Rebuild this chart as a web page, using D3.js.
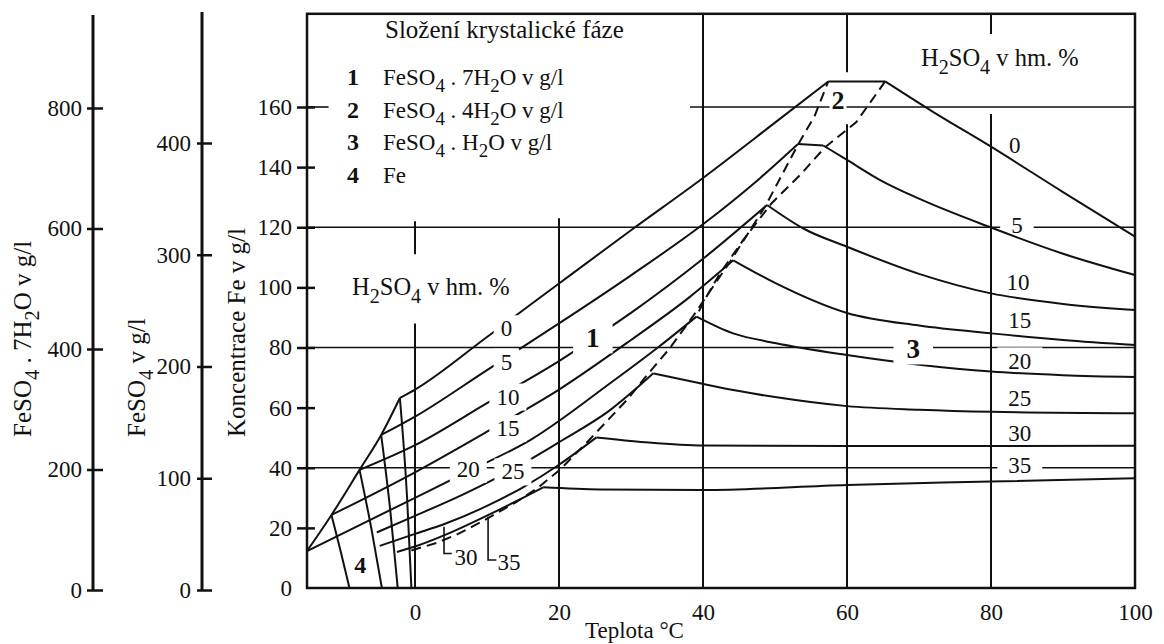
<!DOCTYPE html>
<html>
<head>
<meta charset="utf-8">
<script src="https://cdn.jsdelivr.net/npm/d3@7"></script>
<style>
body { margin: 0; background: #fff; }
text { font-family: "Liberation Serif", "Times New Roman", serif; fill: #111; }
</style>
</head>
<body>
<svg id="chart" width="1164" height="644"></svg>
<script>
// ---- data (temperature degC, Fe g/l) ----
var tempTicks = [0, 20, 40, 60, 80, 100];
var feTicks = [0, 20, 40, 60, 80, 100, 120, 140, 160];
var so4Ticks = [0, 100, 200, 300, 400];
var hepTicks = [0, 200, 400, 600, 800];
var acidPct = ["0", "5", "10", "15", "20", "25", "30", "35"];

// FeSO4.7H2O branches (region 1), one per acid %
var hepta0  = [[-2.1, 63.2], [0, 66], [10, 83.5], [20, 101.3], [30, 119], [40, 136.4], [50, 154.8], [57.4, 168.5]];
var hepta5  = [[-4.7, 50.9], [0, 57], [10, 72.5], [20, 88], [30, 104], [40, 121], [48, 136.5], [53.2, 147.7]];
var hepta10 = [[-7.7, 39.3], [0, 47.5], [10, 61.5], [20, 75.5], [30, 91.5], [40, 109.5], [48.9, 127.4]];
var hepta15 = [[-11.6, 24.3], [0, 38.5], [10, 52], [20, 66], [30, 82.5], [38, 96.5], [44.2, 109]];
var hepta20 = [[-15, 12.3], [0, 30], [8, 39.5], [16, 49.2], [27.1, 68.1], [34, 80.5], [39.1, 90.3]];
var hepta25 = [[-5.3, 18.5], [0, 24], [7, 31.5], [13.6, 39.5], [20, 48.5], [27, 59], [33.1, 71.4]];
var hepta30 = [[-4.9, 14], [0, 18], [4, 21.2], [10, 27.3], [15, 33.5], [20, 41], [25.2, 50.1]];
var hepta35 = [[-2.5, 12], [0, 13.8], [5, 18.5], [10.2, 24.3], [14, 28.8], [17.8, 33.5]];

// FeSO4.H2O branches (region 3)
var mono0  = [[65.3, 168.5], [72, 158.3], [80, 146.8], [90, 131.7], [100, 116.9]];
var mono5  = [[56.7, 147.2], [60, 142.4], [64.6, 135.7], [70, 129.5], [80, 119.9], [90, 111.2], [100, 104.1]];
var mono10 = [[48.9, 127.4], [54, 119.5], [60, 113.5], [70, 104.5], [80, 98], [90, 94.5], [100, 92.5]];
var mono15 = [[44.2, 109], [50, 101.5], [60, 91.5], [70, 87.3], [80, 84.7], [90, 82.5], [100, 80.8]];
var mono20 = [[39.1, 90.3], [44.2, 84.7], [50, 81.5], [60, 77.5], [70, 74.3], [80, 72], [90, 70.8], [100, 70.2]];
var mono25 = [[33.1, 71.4], [39.6, 68.1], [45, 65.5], [50, 63.5], [60, 60.5], [70, 59.3], [80, 58.6], [100, 58.1]];
var mono30 = [[25.2, 50.1], [32, 48.5], [40, 47.4], [60, 47.2], [80, 47.2], [100, 47.3]];
var mono35 = [[17.8, 33.5], [25.7, 32.8], [40, 32.6], [60, 34.3], [80, 35.4], [100, 36.5]];

// phase borders
var dashA = [[-0.5, 12.5], [3, 15], [6, 18], [9.6, 22.5], [14, 28.5], [17, 33.2], [20.2, 39.5], [24.3, 49.5],
             [29.6, 63], [32.3, 71], [35.3, 79.5], [38.5, 90], [43.8, 108.7], [48.7, 127.2], [53.2, 147.5], [55.5, 157], [57.4, 168.5]];
var dashB = [[65.3, 168.5], [61.3, 155], [56.9, 146.5], [53.5, 137.4], [49.5, 127.9], [45.6, 115.8], [42.4, 104.8], [40.5, 97], [39.2, 91]];
var iceEdge = [[-15, 12.3], [-11.6, 24.3], [-7.7, 39.3], [-4.7, 50.9], [-2.1, 63.2]];
var ice1 = [[-11.6, 24.3], [-10.3, 12], [-9.1, 0]];
var ice2 = [[-7.7, 39.3], [-6, 19], [-4.6, 0]];
var ice3 = [[-4.7, 50.9], [-3.4, 25], [-2.4, 0]];
var ice4 = [[-2.1, 63.2], [-1.1, 30], [-0.5, 0]];

// grid pieces: [temp, fe from, fe to] and [fe, temp from, temp to]
var vGrid = [[0, 0, 88], [0, 111, 122], [20, 0, 123], [40, 0, 191], [60, 0, 154.3], [60, 171.6, 191], [80, 0, 157.7], [80, 184.3, 191]];
var hGrid = [[160, 38.2, 100], [160, -15, -12], [120, -15, 100], [80, -15, 100], [40, -15, 100]];

// labels on curves: [text, temp, fe]
var heptaText = [["0", 12.7, 86.4], ["5", 12.7, 75.3], ["10", 12.9, 63.7], ["15", 12.9, 53.2], ["20", 7.4, 39.7], ["25", 13.6, 38.8]];
var monoText = [["0", 83.3, 147.4], ["5", 83.6, 120.8], ["10", 83.75, 101.9], ["15", 84, 89.2], ["20", 84, 75.4], ["25", 84, 63.1], ["30", 84, 51.5], ["35", 84, 40.9]];
var phaseText = [["1", 24.7, 83.2], ["2", 58.75, 162.3], ["3", 69.2, 79.5], ["4", -7.6, 7.7]];
var lowText = [["30", 7.1, 10.4], ["35", 13.05, 8.5]];
var brackets = [[[4.03, 20.4], [4.03, 11.5], [5.1, 11.5]], [[10.15, 23.7], [10.15, 9.3], [11.3, 9.3]]];

var legendNums = ["1", "2", "3", "4"];
var legendText = [
  [["FeSO", 0], ["4", 1], [" . 7H", 0], ["2", 1], ["O v g/l", 0]],
  [["FeSO", 0], ["4", 1], [" . 4H", 0], ["2", 1], ["O v g/l", 0]],
  [["FeSO", 0], ["4", 1], [" . H", 0], ["2", 1], ["O v g/l", 0]],
  [["Fe", 0]]
];

// ---- scales ----
var x = d3.scaleLinear().domain([-15, 100]).range([307, 1135]);
var y = d3.scaleLinear().domain([0, 160]).range([588, 107]);
var y7 = d3.scaleLinear().domain([0, 800]).range([590, 108]);
var y4 = d3.scaleLinear().domain([0, 400]).range([590, 143]);

var svg = d3.select("#chart");
var gGrid = svg.append("g");
var gSoft = svg.append("g");
var gCurves = svg.append("g");
var gHard = svg.append("g");
var gText = svg.append("g");

var line = d3.line()
    .x(function(d) { return x(d[0]); })
    .y(function(d) { return y(d[1]); })
    .curve(d3.curveMonotoneX);

// grid
gGrid.selectAll("line.v").data(vGrid).enter().append("line")
    .attr("x1", function(d) { return x(d[0]); })
    .attr("x2", function(d) { return x(d[0]); })
    .attr("y1", function(d) { return y(d[1]); })
    .attr("y2", function(d) { return y(d[2]); })
    .attr("stroke", "#111").attr("stroke-width", 2);
gGrid.selectAll("line.h").data(hGrid).enter().append("line")
    .attr("x1", function(d) { return x(d[1]); })
    .attr("x2", function(d) { return x(d[2]); })
    .attr("y1", function(d) { return y(d[0]); })
    .attr("y2", function(d) { return y(d[0]); })
    .attr("stroke", "#111").attr("stroke-width", 1.6);

// curves
var heptas = [hepta0, hepta5, hepta10, hepta15, hepta20, hepta25, hepta30, hepta35];
var monos = [mono0, mono5, mono10, mono15, mono20, mono25, mono30, mono35];
heptas.concat(monos, [iceEdge, ice1, ice2, ice3, ice4]).forEach(function(s) {
  gCurves.append("path").attr("d", line(s))
      .attr("fill", "none").attr("stroke", "#111").attr("stroke-width", 2);
});
// plateau links (region 2)
heptas.forEach(function(h, i) {
  var a = h[h.length - 1], b = monos[i][0];
  if (a[0] !== b[0]) {
    gCurves.append("line")
        .attr("x1", x(a[0])).attr("y1", y(a[1]))
        .attr("x2", x(b[0])).attr("y2", y(b[1]))
        .attr("stroke", "#111").attr("stroke-width", 2);
  }
});
[dashA, dashB].forEach(function(s) {
  gCurves.append("path").attr("d", line.curve(d3.curveLinear)(s))
      .attr("fill", "none").attr("stroke", "#111").attr("stroke-width", 2)
      .attr("stroke-dasharray", "10,6");
});
brackets.forEach(function(s) {
  gCurves.append("path").attr("d", line.curve(d3.curveLinear)(s))
      .attr("fill", "none").attr("stroke", "#111").attr("stroke-width", 1.6);
});

// label helper: white box behind text
function label(layer, d, size, bold, padX, padY) {
  var t = gText.append("text")
      .attr("x", x(d[1])).attr("y", y(d[2]))
      .attr("dy", "0.35em")
      .attr("text-anchor", "middle")
      .attr("font-size", size)
      .attr("font-weight", bold ? "bold" : "normal")
      .text(d[0]);
  var b = t.node().getBBox();
  layer.append("rect")
      .attr("x", b.x - padX).attr("y", b.y + 3 - padY)
      .attr("width", b.width + 2 * padX).attr("height", b.height - 6 + 2 * padY)
      .attr("fill", "#fff");
}
heptaText.forEach(function(d) { label(gHard, d, 23, false, 7, 4); });
monoText.forEach(function(d) { label(gSoft, d, 23, false, 11, 5); });
label(gHard, phaseText[0], 27, true, 13, 3);
label(gHard, phaseText[1], 26, true, 2, 0);
label(gHard, phaseText[2], 27, true, 13, 3);
label(gHard, phaseText[3], 24, true, 2, 0);
lowText.forEach(function(d) { label(gSoft, d, 23, false, 0, 0); });

// rich text with subscripts
function rich(sel, parts, size) {
  var off = 0;
  parts.forEach(function(p) {
    var t = sel.append("tspan").text(p[0]);
    var target = p[1] ? size * 0.32 : 0;
    if (target !== off) t.attr("dy", target - off);
    if (p[1]) t.attr("font-size", size * 0.82);
    off = target;
  });
}

// legend
gText.append("text").attr("x", 385).attr("y", 38).attr("font-size", 25).text("Složení krystalické fáze");
legendNums.forEach(function(n, i) {
  var yy = 85 + i * 32.5;
  gText.append("text").attr("x", 347).attr("y", yy).attr("font-size", 24).attr("font-weight", "bold").text(n);
  rich(gText.append("text").attr("x", 383).attr("y", yy).attr("font-size", 23), legendText[i], 23);
});
var acidTitle = [["H", 0], ["2", 1], ["SO", 0], ["4", 1], [" v hm. %", 0]];
rich(gText.append("text").attr("x", 921).attr("y", 66).attr("font-size", 24.5), acidTitle, 24.5);
rich(gText.append("text").attr("x", 352).attr("y", 295).attr("font-size", 24.5), acidTitle, 24.5);

// frame
svg.append("rect")
    .attr("x", x(-15)).attr("y", y(191))
    .attr("width", x(100) - x(-15)).attr("height", y(0) - y(191))
    .attr("fill", "none").attr("stroke", "#111").attr("stroke-width", 2.5);

// axes
function styleAxis(g, inner) {
  g.select(".domain").remove();
  g.selectAll(".tick line").attr("x1", inner).attr("stroke", "#111").attr("stroke-width", 2.5);
  g.selectAll(".tick text").attr("font-family", "Liberation Serif, serif").attr("font-size", 23).attr("fill", "#111");
}
var gFe = svg.append("g").attr("transform", "translate(" + x(-15) + ",0)")
    .call(d3.axisLeft(y).tickValues(feTicks).tickSize(10).tickPadding(5));
styleAxis(gFe, 8);
gFe.selectAll(".tick").filter(function(d) { return d === 0; }).select("line").remove();

var g7 = svg.append("g").attr("transform", "translate(93,0)")
    .call(d3.axisLeft(y7).tickValues(hepTicks).tickSize(6).tickPadding(5));
styleAxis(g7, 10);
g7.append("line").attr("x1", 0).attr("x2", 0).attr("y1", 15).attr("y2", 591).attr("stroke", "#111").attr("stroke-width", 3);

var g4 = svg.append("g").attr("transform", "translate(202,0)")
    .call(d3.axisLeft(y4).tickValues(so4Ticks).tickSize(5).tickPadding(6));
styleAxis(g4, 10);
g4.append("line").attr("x1", 0).attr("x2", 0).attr("y1", 12).attr("y2", 591).attr("stroke", "#111").attr("stroke-width", 3);

var gT = svg.append("g").attr("transform", "translate(0," + y(0) + ")")
    .call(d3.axisBottom(x).tickValues(tempTicks).tickSize(0).tickPadding(16));
gT.select(".domain").remove();
gT.selectAll(".tick text").attr("font-family", "Liberation Serif, serif").attr("font-size", 23).attr("fill", "#111");

// axis titles
gText.append("text").attr("x", 585).attr("y", 638).attr("font-size", 23).text("Teplota °C");
rich(gText.append("text").attr("transform", "translate(31,437) rotate(-90)").attr("font-size", 25),
     [["FeSO", 0], ["4", 1], [" . 7H", 0], ["2", 1], ["O v g/l", 0]], 25);
rich(gText.append("text").attr("transform", "translate(145,437) rotate(-90)").attr("font-size", 25),
     [["FeSO", 0], ["4", 1], [" v g/l", 0]], 25);
gText.append("text").attr("transform", "translate(245,437) rotate(-90)").attr("font-size", 25).text("Koncentrace Fe v g/l");
</script>
</body>
</html>
